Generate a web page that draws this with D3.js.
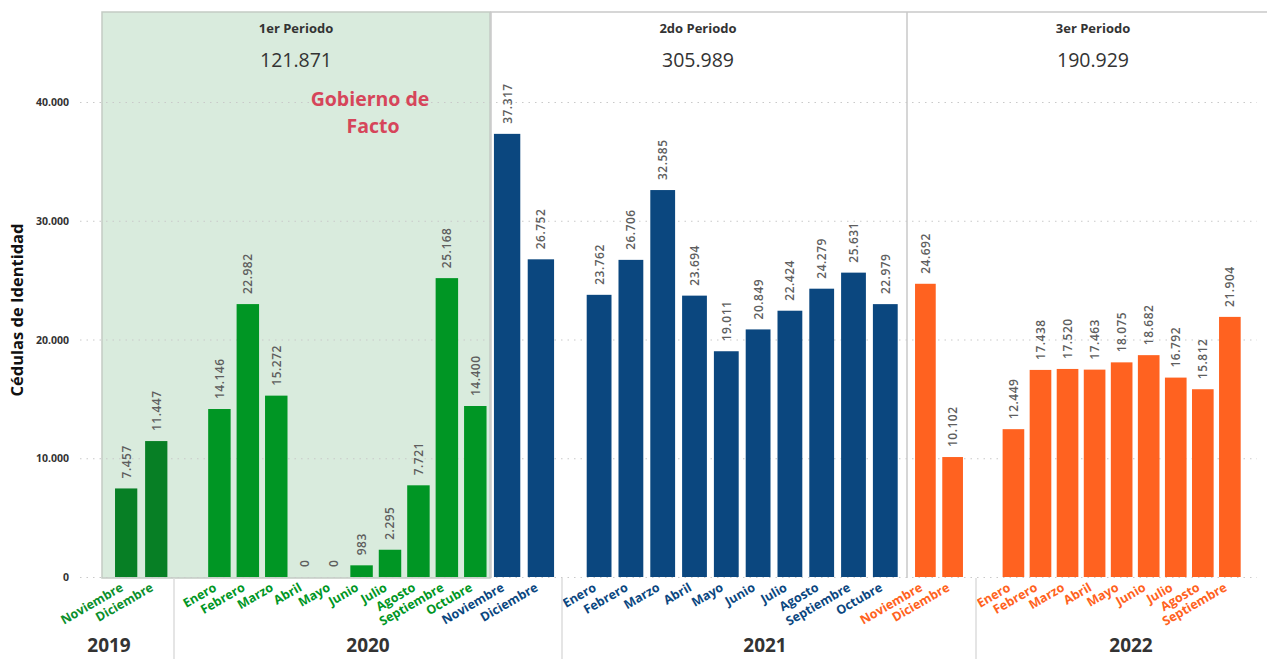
<!DOCTYPE html>
<html>
<head>
<meta charset="utf-8">
<script src="https://cdn.jsdelivr.net/npm/d3@7"></script>
<style>
  html, body { margin: 0; padding: 0; background: #fff; }
  svg { display: block; font-family: "Open Sans", "Noto Sans", sans-serif; }
</style>
</head>
<body>
<svg id="chart" width="1267" height="659"></svg>
<script>
// ---------- DATA ----------
const periodNames = ["1er Periodo", "2do Periodo", "3er Periodo"];
const yearNames = ["2019", "2020", "2021", "2022"];
const barPeriod = [1,1, 1,1,1,1,1,1,1,1,1,1, 2,2, 2,2,2,2,2,2,2,2,2,2, 3,3, 3,3,3,3,3,3,3,3,3];
const barYear = ["2019","2019",
  "2020","2020","2020","2020","2020","2020","2020","2020","2020","2020","2020","2020",
  "2021","2021","2021","2021","2021","2021","2021","2021","2021","2021","2021","2021",
  "2022","2022","2022","2022","2022","2022","2022","2022","2022"];
const barMonth = ["Noviembre","Diciembre",
  "Enero","Febrero","Marzo","Abril","Mayo","Junio","Julio","Agosto","Septiembre","Octubre","Noviembre","Diciembre",
  "Enero","Febrero","Marzo","Abril","Mayo","Junio","Julio","Agosto","Septiembre","Octubre","Noviembre","Diciembre",
  "Enero","Febrero","Marzo","Abril","Mayo","Junio","Julio","Agosto","Septiembre"];
const barValue = [7457, 11447,
  14146, 22982, 15272, 0, 0, 983, 2295, 7721, 25168, 14400, 37317, 26752,
  23762, 26706, 32585, 23694, 19011, 20849, 22424, 24279, 25631, 22979, 24692, 10102,
  12449, 17438, 17520, 17463, 18075, 18682, 16792, 15812, 21904];
const yTicks = [0, 10000, 20000, 30000, 40000];
const yTitle = "Cédulas de Identidad";
const annotation = ["Gobierno de", "Facto"];

// ---------- LAYOUT / STYLE ----------
const W = 1267, H = 659;
const svg = d3.select("#chart");
const fmt = d3.formatLocale({decimal: ",", thousands: ".", grouping: [3]}).format(",d");
const y = d3.scaleLinear().domain([0, 40000]).range([577, 102]);

const panelX = [102, 490, 906, 1267];   // period panel boundaries
const panelTop = 12, panelBottom = 578;
const yearSep = [174, 562, 976];
const yearLabelX = [109, 368, 765, 1131];

// each pane = (period, year) with its own band range
const panes = [
  {p: 1, yr: "2019", r: [107.2, 175.2], pad: 0.26},
  {p: 1, yr: "2020", r: [202.2, 492.5], pad: 0.21},
  {p: 2, yr: "2020", r: [486.5, 561.5], pad: 0.22},
  {p: 2, yr: "2021", r: [579.7, 904.7], pad: 0.22},
  {p: 3, yr: "2021", r: [908.5, 969.5], pad: 0.24},
  {p: 3, yr: "2022", r: [997.2, 1246.1], pad: 0.2}
];
const colorOf = (p, yr) => p === 1 ? (yr === "2019" ? "#077f25" : "#009624") : p === 2 ? "#0b477f" : "#ff6220";

const bars = barValue.map((v, i) => ({v, p: barPeriod[i], yr: barYear[i], m: barMonth[i]}));
panes.forEach(pn => {
  const items = bars.filter(b => b.p === pn.p && b.yr === pn.yr);
  const sc = d3.scaleBand().domain(items.map(b => b.m)).range(pn.r).padding(pn.pad);
  items.forEach(b => { b.x = sc(b.m); b.w = sc.bandwidth(); b.cx = sc(b.m) + sc.bandwidth() / 2; });
});

// panel 1 background
svg.append("rect").attr("x", panelX[0]).attr("y", panelTop)
  .attr("width", panelX[1] - panelX[0]).attr("height", panelBottom - panelTop)
  .attr("fill", "#d9ebdd").attr("stroke", "#c3cbc4").attr("stroke-width", 1.5);

// top border for panels 2 & 3
svg.append("line").attr("x1", panelX[1]).attr("x2", W).attr("y1", panelTop).attr("y2", panelTop)
  .attr("stroke", "#c8c8c8").attr("stroke-width", 1.5);
[panelX[1], panelX[2]].forEach(x => {
  svg.append("line").attr("x1", x + 1).attr("x2", x + 1).attr("y1", panelTop).attr("y2", panelBottom)
    .attr("stroke", "#c8c8c8").attr("stroke-width", 1.5);
});

// grid
svg.append("g").selectAll("line").data(yTicks).join("line")
  .attr("x1", 80).attr("x2", 1257)
  .attr("y1", d => y(d) + 0.5).attr("y2", d => y(d) + 0.5)
  .attr("stroke", "#c9c9c9").attr("stroke-width", 1).attr("stroke-dasharray", "1.5,5");

// y axis labels
svg.append("g").selectAll("text").data(yTicks).join("text")
  .attr("x", 69).attr("y", d => y(d) + 4)
  .attr("text-anchor", "end").attr("font-size", 10.5).attr("font-weight", 700).attr("fill", "#333")
  .text(d => fmt(d));

svg.append("text")
  .attr("transform", "translate(23,310) rotate(-90)")
  .attr("text-anchor", "middle").attr("font-size", 16.5).attr("font-weight", 700).attr("fill", "#111")
  .text(yTitle);

// bars
svg.append("g").selectAll("rect").data(bars.filter(b => b.v > 0)).join("rect")
  .attr("x", b => b.x).attr("width", b => b.w)
  .attr("y", b => y(b.v)).attr("height", b => y(0) - y(b.v))
  .attr("fill", b => colorOf(b.p, b.yr));

// value labels
svg.append("g").selectAll("text").data(bars).join("text")
  .attr("transform", b => `translate(${b.cx + 4.5},${y(b.v) - 10}) rotate(-90)`)
  .attr("font-size", 12).attr("font-weight", 600).attr("fill", "#5e5e5e").attr("letter-spacing", 0.5)
  .text(b => fmt(b.v));

// x labels
svg.append("g").selectAll("text").data(bars).join("text")
  .attr("transform", b => `translate(${b.cx - 2},${590}) rotate(-30)`)
  .attr("text-anchor", "end").attr("font-size", 12.5).attr("font-weight", 700)
  .attr("fill", b => colorOf(b.p, b.yr) === "#077f25" ? "#0b8f2c" : colorOf(b.p, b.yr))
  .text(b => b.m);

// year separators and labels
svg.append("g").selectAll("line").data(yearSep).join("line")
  .attr("x1", d => d).attr("x2", d => d).attr("y1", panelBottom).attr("y2", H)
  .attr("stroke", "#dcdcdc").attr("stroke-width", 1.5);
svg.append("g").selectAll("text").data(yearNames).join("text")
  .attr("x", (d, i) => yearLabelX[i]).attr("y", 652)
  .attr("text-anchor", "middle").attr("font-size", 19).attr("font-weight", 700).attr("fill", "#333")
  .text(d => d);

// period headers
const headerX = [296, 698, 1093];
periodNames.forEach((name, i) => {
  const total = d3.sum(bars.filter(b => b.p === i + 1), b => b.v);
  svg.append("text").attr("x", headerX[i]).attr("y", 33).attr("text-anchor", "middle")
    .attr("font-size", 13).attr("font-weight", 700).attr("fill", "#333").text(name);
  svg.append("text").attr("x", headerX[i]).attr("y", 67).attr("text-anchor", "middle")
    .attr("font-size", 19.5).attr("fill", "#333").text(fmt(total));
});

// annotation
svg.append("g").selectAll("text").data(annotation).join("text")
  .attr("x", (d, i) => i === 0 ? 370 : 373).attr("y", (d, i) => 106 + i * 27)
  .attr("text-anchor", "middle").attr("font-size", 19.5).attr("font-weight", 700).attr("fill", "#d6455a")
  .text(d => d);
</script>
</body>
</html>
